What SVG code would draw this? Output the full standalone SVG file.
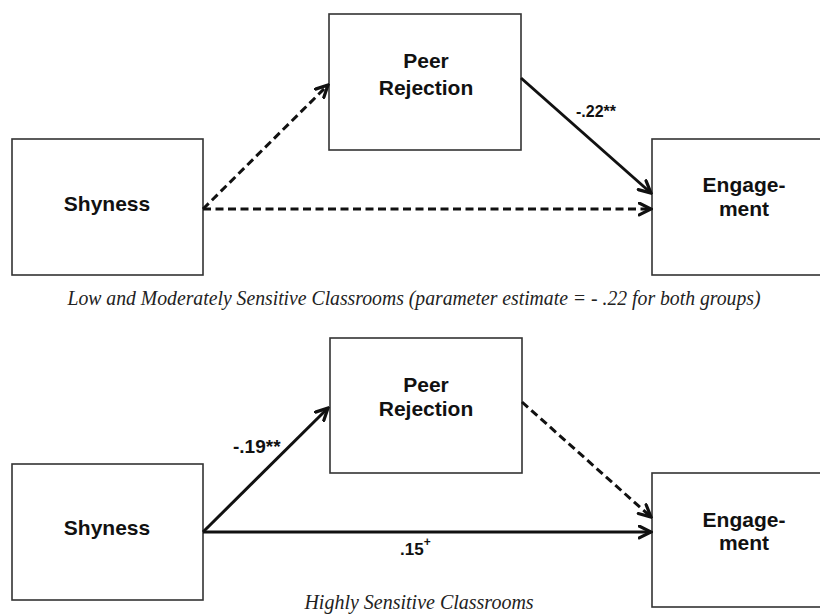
<svg xmlns="http://www.w3.org/2000/svg" width="820" height="614" viewBox="0 0 820 614">
  <style>
    .box { fill: #ffffff; stroke: #333333; stroke-width: 1.6; }
    .lbl { font-family: "Liberation Sans", Arial, sans-serif; font-weight: bold; font-size: 21px; fill: #111111; text-anchor: middle; }
    .coef { font-family: "Liberation Sans", Arial, sans-serif; font-weight: bold; font-size: 16px; fill: #111111; }
    .cap { font-family: "Liberation Serif", "Times New Roman", serif; font-style: italic; font-size: 20px; fill: #222222; text-anchor: middle; }
    .edge { stroke: #111111; stroke-width: 3; fill: none; marker-end: url(#arr); }
    .dash { stroke-dasharray: 8 4.5; }
  </style>
  <defs>
    <marker id="arr" markerUnits="userSpaceOnUse" viewBox="0 0 14 14" refX="12.5" refY="7" markerWidth="15" markerHeight="15" orient="auto">
      <path d="M1.5,1.5 L12.5,7 L1.5,12.5" fill="none" stroke="#111111" stroke-width="3" stroke-linecap="round" stroke-linejoin="miter"/>
    </marker>
  </defs>
  <rect width="820" height="614" fill="#ffffff"/>

  <!-- Top model: Low and Moderately Sensitive Classrooms -->
  <g id="top-shyness">
    <rect class="box" x="12" y="139" width="191" height="136"/>
    <text class="lbl" x="107" y="211">Shyness</text>
  </g>
  <g id="top-peer-rejection">
    <rect class="box" x="329" y="14" width="192" height="136"/>
    <text class="lbl" x="426" y="68">Peer</text>
    <text class="lbl" x="426" y="95">Rejection</text>
  </g>
  <g id="top-engagement">
    <rect class="box" x="652" y="139" width="180" height="136"/>
    <text class="lbl" x="744" y="192">Engage-</text>
    <text class="lbl" x="744" y="216">ment</text>
  </g>

  <!-- Bottom model: Highly Sensitive Classrooms -->
  <g id="bottom-shyness">
    <rect class="box" x="12" y="464" width="191" height="136"/>
    <text class="lbl" x="107" y="535">Shyness</text>
  </g>
  <g id="bottom-peer-rejection">
    <rect class="box" x="330" y="338" width="192" height="135"/>
    <text class="lbl" x="426" y="392">Peer</text>
    <text class="lbl" x="426" y="416">Rejection</text>
  </g>
  <g id="bottom-engagement">
    <rect class="box" x="652" y="473" width="180" height="134"/>
    <text class="lbl" x="744" y="527">Engage-</text>
    <text class="lbl" x="744" y="550">ment</text>
  </g>

  <g id="connectors">
    <line class="edge dash" x1="203" y1="209" x2="328" y2="85"/>
    <line class="edge dash" x1="203" y1="209" x2="651" y2="209"/>
    <line class="edge" x1="521" y1="78" x2="651" y2="193"/>
    <line class="edge" x1="203" y1="532" x2="328" y2="408"/>
    <line class="edge" x1="203" y1="532" x2="651" y2="532"/>
    <line class="edge dash" x1="522" y1="402" x2="651" y2="517"/>
  </g>

  <g id="labels">
    <text class="coef" x="576" y="117">-.22**</text>
    <text class="coef" x="233" y="453" style="font-size:19px">-.19**</text>
    <text class="coef" x="400" y="555" style="font-size:17px">.15<tspan dy="-9" font-size="12">+</tspan></text>
    <text class="cap" x="414" y="305" textLength="693" lengthAdjust="spacingAndGlyphs">Low and Moderately Sensitive Classrooms (parameter estimate = - .22 for both groups)</text>
    <text class="cap" x="419" y="609">Highly Sensitive Classrooms</text>
  </g>
</svg>
